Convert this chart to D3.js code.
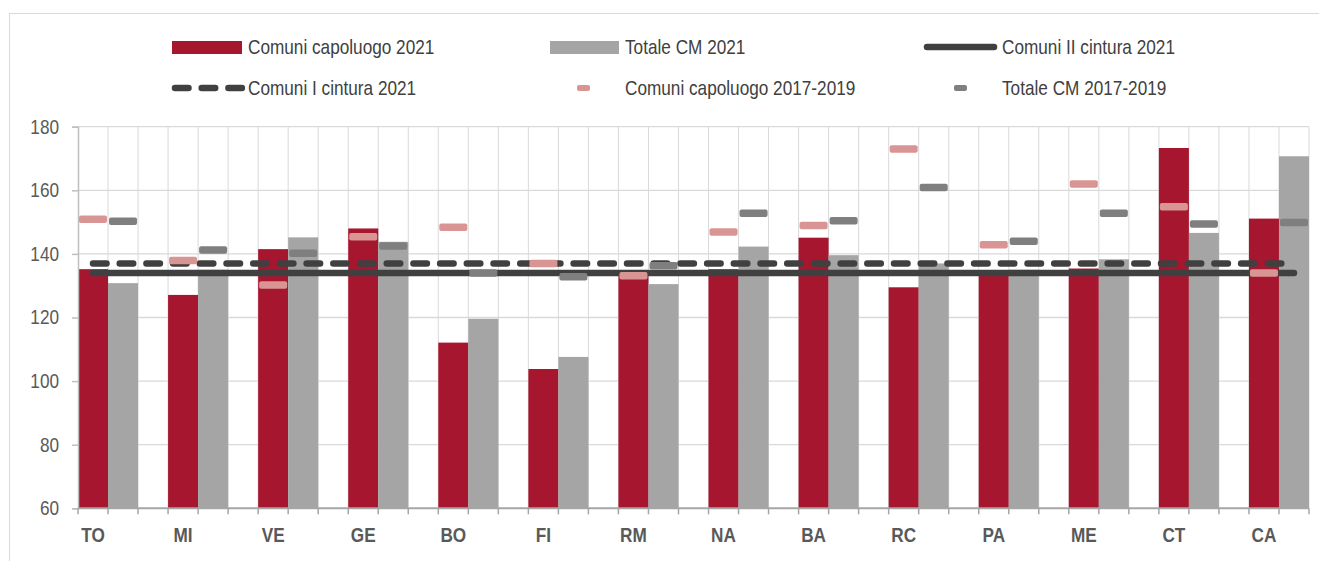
<!DOCTYPE html>
<html>
<head>
<meta charset="utf-8">
<script src="https://cdn.jsdelivr.net/npm/d3@7"></script>
<style>
  body { margin: 0; background: #fff; }
  svg { font-family: "Liberation Sans Narrow", "Arial Narrow", "Liberation Sans", Arial, sans-serif; }
</style>
</head>
<body>
<svg id="chart"></svg>
<script>
// città metropolitane
const cities = ["TO", "MI", "VE", "GE", "BO", "FI", "RM", "NA", "BA", "RC", "PA", "ME", "CT", "CA"];

const capoluogo2021 = [135.2, 127.1, 141.5, 148.0, 112.1, 103.8, 134.3, 135.2, 145.1, 129.5, 134.0, 135.4, 173.3, 151.1];
const totaleCM2021 = [130.8, 135.0, 145.2, 143.8, 119.6, 107.6, 130.5, 142.3, 139.6, 137.0, 135.0, 138.3, 146.6, 170.7];
const capoluogo1719 = [150.9, 137.9, 130.2, 145.4, 148.4, 137.0, 133.1, 146.9, 148.9, 173.0, 142.9, 162.0, 154.8, 134.0];
const totale1719 = [150.3, 141.2, 140.2, 142.5, 134.0, 132.8, 136.3, 152.8, 150.4, 160.9, 144.0, 152.8, 149.4, 149.9];

const primaCintura2021 = 137;
const secondaCintura2021 = 134;

const yTicks = [60, 80, 100, 120, 140, 160, 180];

const width = 1319, height = 561;
const red = "#a6172f", grey = "#a5a5a5", pink = "#d99594", darkGrey = "#7f7f7f", lineCol = "#404040";
const squeeze = 0.86; // no Arial Narrow here, so compress the sans font

let svg = d3.select("#chart").attr("width", width).attr("height", height);

// put a text at (x, y) squeezed horizontally
const narrowText = (g, x, y, str) =>
  g.append("text")
    .attr("transform", `translate(${x},${y}) scale(${squeeze},1)`)
    .text(str);

// frame
svg.append("rect")
    .attr("x", 9.5).attr("y", 13.5)
    .attr("width", 1330).attr("height", 600)
    .attr("fill", "none").attr("stroke", "#d9d9d9");

// 3 slots per city (capoluogo, totale, gap), last gap dropped
let nSlots = cities.length * 3 - 1;
let xScale = d3.scaleBand()
                .domain(d3.range(nSlots))
                .range([78, 1309])
                .padding(0);

let yScale = d3.scaleLinear()
                .domain([60, 180])
                .range([508.3, 126.7]);

let slotEdge = d => xScale(d) ?? xScale.range()[1];

// grid
svg.append("g")
    .selectAll("line")
    .data(d3.range(1, nSlots + 1))
    .enter()
    .append("line")
      .attr("x1", slotEdge)
      .attr("x2", slotEdge)
      .attr("y1", yScale(180))
      .attr("y2", yScale(60))
      .attr("stroke", "#d9d9d9");

svg.append("g")
    .selectAll("line")
    .data(yTicks.slice(1))
    .enter()
    .append("line")
      .attr("x1", xScale.range()[0])
      .attr("x2", xScale.range()[1])
      .attr("y1", d => yScale(d))
      .attr("y2", d => yScale(d))
      .attr("stroke", "#d9d9d9")
      .attr("stroke-width", 1.3);

// bars
const bars = svg.append("g");
bars.selectAll(".cap")
    .data(capoluogo2021)
    .enter()
    .append("rect")
      .attr("x", (d, i) => xScale(i * 3))
      .attr("y", d => yScale(d))
      .attr("width", xScale.bandwidth())
      .attr("height", d => yScale(60) - yScale(d))
      .attr("fill", red);

bars.selectAll(".tot")
    .data(totaleCM2021)
    .enter()
    .append("rect")
      .attr("x", (d, i) => xScale(i * 3 + 1))
      .attr("y", d => yScale(d))
      .attr("width", xScale.bandwidth())
      .attr("height", d => yScale(60) - yScale(d))
      .attr("fill", grey);

// axes
let yAxis = d3.axisLeft(yScale).tickValues(yTicks).tickSize(6).tickPadding(13);
let yg = svg.append("g")
    .attr("transform", "translate(78,0)")
    .call(yAxis);
yg.select(".domain").attr("stroke", "#bfbfbf").attr("stroke-width", 1.5);
yg.selectAll(".tick line").attr("stroke", "#bfbfbf").attr("stroke-width", 1.5);
yg.selectAll("text")
    .attr("fill", "#595959")
    .attr("x", -19 / squeeze)
    .attr("transform", `scale(${squeeze},1)`)
    .style("font-size", "20px");

let xg = svg.append("g");
xg.append("line")
    .attr("x1", xScale.range()[0]).attr("x2", xScale.range()[1])
    .attr("y1", yScale(60)).attr("y2", yScale(60))
    .attr("stroke", "#a6a6a6").attr("stroke-width", 2);
xg.selectAll(".xt")
    .data(d3.range(nSlots + 1))
    .enter()
    .append("line")
      .attr("x1", slotEdge)
      .attr("x2", slotEdge)
      .attr("y1", yScale(60))
      .attr("y2", yScale(60) + 6)
      .attr("stroke", "#a6a6a6")
      .attr("stroke-width", 1.5);
xg.selectAll("text")
    .data(cities)
    .enter()
    .append("text")
      .text(d => d)
      .attr("transform", (d, i) => `translate(${xScale(i * 3) + xScale.bandwidth() / 2},542) scale(${squeeze},1)`)
      .attr("text-anchor", "middle")
      .attr("fill", "#595959")
      .style("font-size", "20px")
      .style("font-weight", "bold");

// reference lines
let x0 = xScale(0) + xScale.bandwidth() / 2;
let x1 = xScale(nSlots - 1) + xScale.bandwidth() / 2;

svg.append("line")
    .attr("x1", x0).attr("x2", x1)
    .attr("y1", yScale(secondaCintura2021)).attr("y2", yScale(secondaCintura2021))
    .attr("stroke", lineCol)
    .attr("stroke-width", 6.5)
    .attr("stroke-linecap", "round");

svg.append("line")
    .attr("x1", x0).attr("x2", x1)
    .attr("y1", yScale(primaCintura2021)).attr("y2", yScale(primaCintura2021))
    .attr("stroke", lineCol)
    .attr("stroke-width", 6.5)
    .attr("stroke-dasharray", "13.5 13.2")
    .attr("stroke-linecap", "round");

// 2017-2019 markers
const marks = svg.append("g");
marks.selectAll(".mc")
    .data(capoluogo1719)
    .enter()
    .append("rect")
      .attr("x", (d, i) => xScale(i * 3) + 1)
      .attr("y", d => yScale(d) - 3.75)
      .attr("width", xScale.bandwidth() - 2)
      .attr("height", 7.5)
      .attr("rx", 2)
      .attr("fill", pink);

marks.selectAll(".mt")
    .data(totale1719)
    .enter()
    .append("rect")
      .attr("x", (d, i) => xScale(i * 3 + 1) + 1)
      .attr("y", d => yScale(d) - 3.75)
      .attr("width", xScale.bandwidth() - 2)
      .attr("height", 7.5)
      .attr("rx", 2)
      .attr("fill", darkGrey);

// legend
const legend = svg.append("g")
    .style("font-size", "20px")
    .attr("fill", "#404040");

legend.append("rect").attr("x", 172).attr("y", 41).attr("width", 70).attr("height", 13).attr("fill", red);
narrowText(legend, 248, 54, "Comuni capoluogo 2021");

legend.append("rect").attr("x", 550).attr("y", 41).attr("width", 69).attr("height", 13).attr("fill", grey);
narrowText(legend, 625, 54, "Totale CM 2021");

legend.append("line").attr("x1", 927).attr("x2", 994).attr("y1", 47).attr("y2", 47)
    .attr("stroke", lineCol).attr("stroke-width", 6.5).attr("stroke-linecap", "round");
narrowText(legend, 1002, 54, "Comuni II cintura 2021");

legend.append("line").attr("x1", 175).attr("x2", 242).attr("y1", 88).attr("y2", 88)
    .attr("stroke", lineCol).attr("stroke-width", 6.5).attr("stroke-linecap", "round")
    .attr("stroke-dasharray", "13.5 13.2");
narrowText(legend, 248, 95, "Comuni I cintura 2021");

legend.append("rect").attr("x", 577).attr("y", 85).attr("width", 13).attr("height", 6).attr("rx", 2).attr("fill", pink);
narrowText(legend, 625, 95, "Comuni capoluogo 2017-2019");

legend.append("rect").attr("x", 954).attr("y", 85).attr("width", 13).attr("height", 6).attr("rx", 2).attr("fill", darkGrey);
narrowText(legend, 1002, 95, "Totale CM 2017-2019");
</script>
</body>
</html>
